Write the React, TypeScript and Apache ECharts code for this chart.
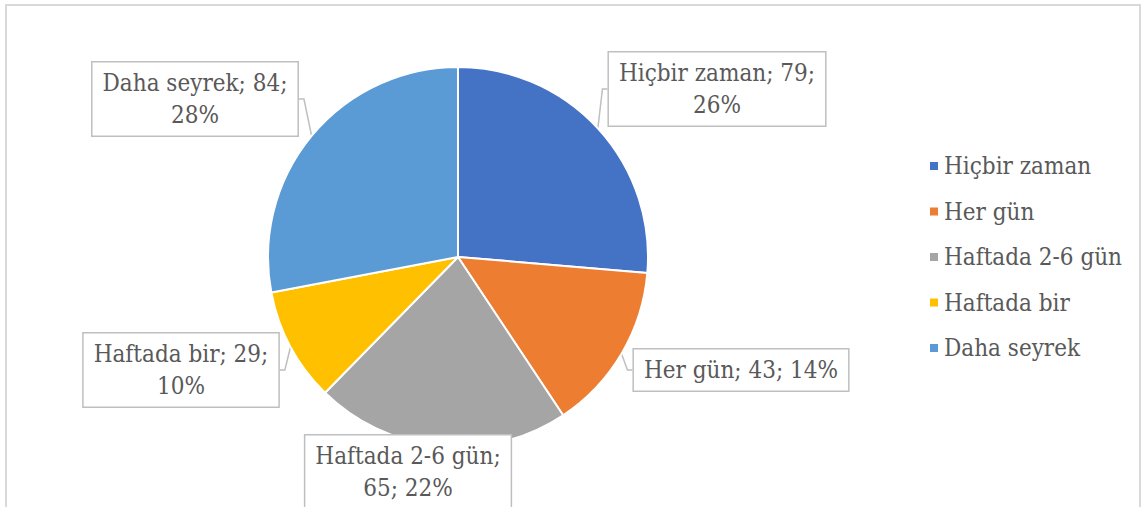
import React, { useEffect, useRef } from "react";
import * as echarts from "echarts";

const categories = ["Hiçbir zaman", "Her gün", "Haftada 2-6 gün", "Haftada bir", "Daha seyrek"];
const values = [79, 43, 65, 29, 84];
const colors = ["#4472C4", "#ED7D31", "#A5A5A5", "#FFC000", "#5B9BD5"];
// where each label wraps: 0 = single line, 1 = after value, 2 = after name
const labelBreaks = [1, 0, 2, 1, 1];
// label box centres (layout only)
const labelCenters: [number, number][] = [
  [717, 89],
  [741, 370],
  [408, 472],
  [181, 370],
  [195, 99],
];

const FONT = "'DejaVu Serif Condensed', 'DejaVu Serif', serif";

export default function App() {
  const ref = useRef<HTMLDivElement>(null);
  useEffect(() => {
    if (!ref.current) return;
    const chart = echarts.init(ref.current, null, { renderer: "svg" });
    const total = values.reduce((a, b) => a + b, 0);
    const data = categories.map((name, i) => {
      const pct = Math.round((values[i] / total) * 100);
      let text = "";
      if (labelBreaks[i] === 0) text = `${name}; ${values[i]}; ${pct}%`;
      else if (labelBreaks[i] === 1) text = `${name}; ${values[i]};\n${pct}%`;
      else text = `${name};\n${values[i]}; ${pct}%`;
      return {
        name,
        value: values[i],
        itemStyle: { color: colors[i] },
        label: { formatter: text },
      };
    });
    chart.setOption({
      animation: false,
      backgroundColor: "#ffffff",
      textStyle: { fontFamily: FONT },
      graphic: [
        {
          type: "rect",
          shape: { x: 6, y: 5, width: 1134, height: 530 },
          style: { fill: "none", stroke: "#d9d9d9", lineWidth: 2 },
          silent: true,
        },
      ],
      legend: {
        orient: "vertical",
        left: 923,
        top: 148,
        icon: "rect",
        itemWidth: 10,
        itemHeight: 10,
        itemGap: 19.5,
        data: categories,
        textStyle: { fontFamily: FONT, fontSize: 24, color: "#595959", lineHeight: 26 },
      },
      series: [
        {
          type: "pie",
          center: [458, 257],
          radius: 190,
          startAngle: 90,
          clockwise: true,
          percentPrecision: 0,
          itemStyle: { borderColor: "#ffffff", borderWidth: 2 },
          label: {
            show: true,
            position: "outside",
            fontFamily: FONT,
            fontSize: 24,
            lineHeight: 32,
            color: "#595959",
            align: "center",
            backgroundColor: "#ffffff",
            borderColor: "#bfbfbf",
            borderWidth: 1.5,
            padding: [5, 10, 4, 10],
          },
          labelLine: {
            show: true,
            length: 5,
            length2: 5,
            lineStyle: { color: "#bfbfbf", width: 1.5 },
          },
          labelLayout: (params: any) => {
            const c = labelCenters[params.dataIndex];
            return { x: c[0], y: c[1], align: "center", verticalAlign: "middle" };
          },
          emphasis: { disabled: true },
          data,
        },
      ],
    });
    return () => chart.dispose();
  }, []);
  return (
    <div
      ref={ref}
      style={{ position: "fixed", left: 0, top: 0, width: 1141, height: 507 }}
    />
  );
}
